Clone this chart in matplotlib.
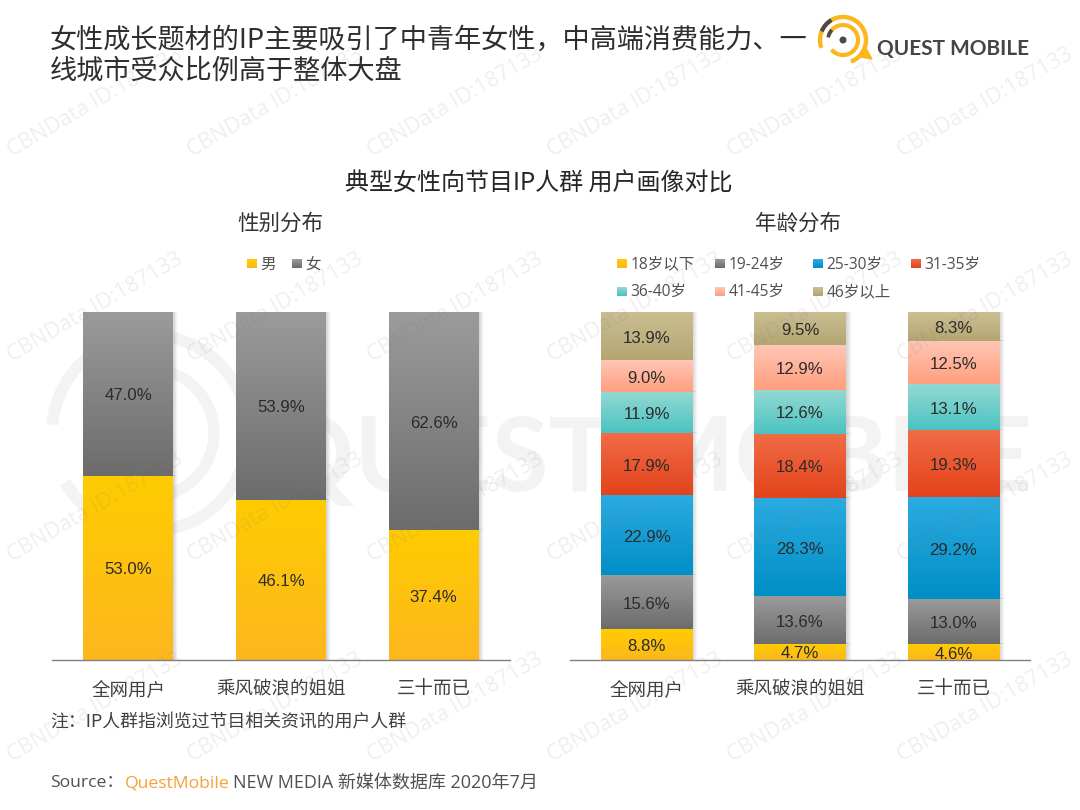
import numpy as np
import matplotlib
matplotlib.use("Agg")
import matplotlib.pyplot as plt
from matplotlib.patches import Arc, Circle, Polygon
from matplotlib.colors import to_rgb

plt.rcParams['font.family'] = ['Noto Sans CJK SC', 'DejaVu Sans']

# ---- data ----
categories = ['全网用户', '乘风破浪的姐姐', '三十而已']
gender_names = ['男', '女']
gender_male = [53.0, 46.1, 37.4]
gender_female = [47.0, 53.9, 62.6]
age_names = ['18岁以下', '19-24岁', '25-30岁', '31-35岁', '36-40岁', '41-45岁', '46岁以上']
age_u18 = [8.8, 4.7, 4.6]
age_19 = [15.6, 13.6, 13.0]
age_25 = [22.9, 28.3, 29.2]
age_31 = [17.9, 18.4, 19.3]
age_36 = [11.9, 12.6, 13.1]
age_41 = [9.0, 12.9, 12.5]
age_46 = [13.9, 9.5, 8.3]

title = '女性成长题材的IP主要吸引了中青年女性，中高端消费能力、一\n线城市受众比例高于整体大盘'
subtitle = '典型女性向节目IP人群 用户画像对比'
panel_titles = ['性别分布', '年龄分布']
note = '注：IP人群指浏览过节目相关资讯的用户人群'
watermark = 'CBNData ID:187133'

YELLOW = ('#FFCC00', '#FDB71F')
GRAY = ('#9B9B9B', '#6C6C6C')
gender_colors = [YELLOW, GRAY]
age_colors = [YELLOW, GRAY, ('#2BABE1', '#008FC6'), ('#F06C48', '#E4431A'),
              ('#93D9D3', '#4BC3C1'), ('#FFC6B6', '#FF9F7E'), ('#CBBE92', '#B4A672')]

W, H = 1080, 810
fig = plt.figure(figsize=(W / 100, H / 100), dpi=100, facecolor='white')


def px_axes(x0, y0, x1, y1, z):
    return fig.add_axes([x0 / W, 1 - y1 / H, (x1 - x0) / W, (y1 - y0) / H], zorder=z)


# ---- faint background logo ----
bg = px_axes(0, 0, W, H, 0)
bg.set_xlim(0, W); bg.set_ylim(H, 0); bg.axis('off')
BGC = '#F3F3F3'
bg.add_patch(Arc((150, 433), 196, 196, theta1=-175, theta2=150, ec=BGC, lw=8.5))
bg.add_patch(Arc((150, 433), 128, 128, theta1=-140, theta2=130, ec=BGC, lw=8))
bg.text(1032, 461, 'QUEST MOBILE', fontsize=75, color=BGC, family='Lato', weight='bold', va='center', ha='right')


def gradient_bar(ax, x, bottom, height, width, colors, pps):
    top_c, bot_c = np.array(to_rgb(colors[0])), np.array(to_rgb(colors[1]))
    t = np.linspace(0, 1, 64)[:, None, None]
    img = top_c[None, None, :] * (1 - t) + bot_c[None, None, :] * t
    # soft shadow on the right
    sw = 5 * pps
    sh = np.zeros((1, 16, 4))
    sh[..., :3] = 0.45
    sh[..., 3] = np.linspace(0.32, 0, 16)
    ax.imshow(sh, extent=(x + width / 2, x + width / 2 + sw, bottom, bottom + height),
              aspect='auto', zorder=1, interpolation='bilinear')
    ax.imshow(img, extent=(x - width / 2, x + width / 2, bottom, bottom + height),
              aspect='auto', zorder=2, interpolation='bilinear')


def stacked(ax, series, colors, bw):
    pps = 1 / 153.0
    xs = np.arange(len(categories))
    base = np.zeros(len(categories))
    for vals, col in zip(series, colors):
        for x, b, v in zip(xs, base, vals):
            gradient_bar(ax, x, b, v, bw, col, pps)
            ax.annotate(f'{v:.1f}%', (x, b + v / 2), xytext=(0, -1.5), textcoords='offset points',
                        ha='center', va='center', fontsize=12.1,
                        family='Liberation Sans', color='#2B2B2B', zorder=3)
        base = base + np.array(vals)
    ax.set_xlim(-0.5, 2.5)
    ax.set_ylim(0, 100)
    ax.set_xticks(xs, categories)
    ax.set_yticks([])
    ax.tick_params(axis='x', length=0, pad=15, labelsize=13.3, labelcolor='#404040')
    for s in ['top', 'left', 'right']:
        ax.spines[s].set_visible(False)
    ax.spines['bottom'].set_color('#808080')
    ax.spines['bottom'].set_linewidth(1.0)
    ax.patch.set_alpha(0)


ax1 = px_axes(52, 312, 510, 660, 1)
stacked(ax1, [gender_male, gender_female], gender_colors, 90 / 152.7)
ax2 = px_axes(570, 312, 1030, 660, 1)
stacked(ax2, [age_u18, age_19, age_25, age_31, age_36, age_41, age_46], age_colors, 91 / 153.3)

# ---- overlay: text, legends, logo, watermark ----
ov = px_axes(0, 0, W, H, 2)
ov.set_xlim(0, W); ov.set_ylim(H, 0); ov.axis('off')

ov.text(50, 55.5, title, fontsize=19.55, color='#2E2E2E', va='center', ha='left', linespacing=1.2)
ov.text(539, 184, subtitle, fontsize=17.3, color='#262626', va='center', ha='center')
ov.text(280, 224, panel_titles[0], fontsize=15.5, color='#333333', va='center', ha='center')
ov.text(798, 224, panel_titles[1], fontsize=15.5, color='#333333', va='center', ha='center')

LEG_FONT = ['Open Sans', 'Noto Sans CJK SC']


def legend_item(x, y, name, colors):
    n = 12
    t = np.linspace(0, 1, n)[:, None, None]
    img = np.array(to_rgb(colors[0]))[None, None, :] * (1 - t) + np.array(to_rgb(colors[1]))[None, None, :] * t
    ov.imshow(img, extent=(x, x + 9.5, y + 4.5, y - 4.5), aspect='auto', zorder=3)
    ov.text(x + 13.5, y + 0.5, name, fontsize=11.2, color='#505050', va='center', ha='left', family=LEG_FONT)


for x, name, col in zip([247, 292], gender_names, gender_colors):
    legend_item(x, 264, name, col)
age_x = [617, 715, 813, 911, 617, 715, 813]
age_y = [264, 264, 264, 264, 291.5, 291.5, 291.5]
for x, y, name, col in zip(age_x, age_y, age_names, age_colors):
    legend_item(x, y, name, col)
ov.set_xlim(0, W); ov.set_ylim(H, 0)

ov.text(50, 722, note, fontsize=12.9, color='#404040', va='center', ha='left')
ov.text(50, 783, 'Source：', fontsize=12.6, color='#505050', va='center', ha='left', family=LEG_FONT)
ov.text(125, 783, 'QuestMobile', fontsize=12.6, color='#F7A035', va='center', ha='left', family=LEG_FONT)
ov.text(233, 783, 'NEW MEDIA 新媒体数据库 2020年7月', fontsize=13, color='#505050', va='center', ha='left',
        family=LEG_FONT)

# logo
LY, LD = '#FBB81E', '#4A4A4A'
cx, cy = 843, 40
ov.add_patch(Arc((cx, cy), 46, 46, theta1=-200, theta2=40, ec=LY, lw=3.2))
ov.add_patch(Arc((cx, cy), 46, 46, theta1=40, theta2=70, ec=LY, lw=3.2))
ov.add_patch(Arc((cx, cy), 30, 30, theta1=-160, theta2=140, ec=LY, lw=3.0))
ov.add_patch(Arc((cx, cy), 46, 46, theta1=202, theta2=240, ec=LD, lw=3.0))
ov.add_patch(Arc((cx, cy), 30, 30, theta1=190, theta2=222, ec=LD, lw=2.6))
ov.add_patch(Circle((cx, cy), 2.8, color=LD))
ov.add_patch(Polygon([(858, 56.5), (872, 59), (865, 46.5)], closed=True, color=LY))
ov.text(877, 48.5, 'QUEST MOBILE', fontsize=15, color='#454545', family='Lato', weight='bold', va='center', ha='left')

# watermark grid
for cyw in [103, 308, 508, 708]:
    for cxw in [95, 275, 455, 635, 815, 985]:
        ov.text(cxw, cyw, watermark, fontsize=15.6, color='#808080', alpha=0.13, rotation=30,
                rotation_mode='anchor', ha='center', va='center', family='Open Sans', zorder=5)

fig.savefig('out.png', dpi=100)
